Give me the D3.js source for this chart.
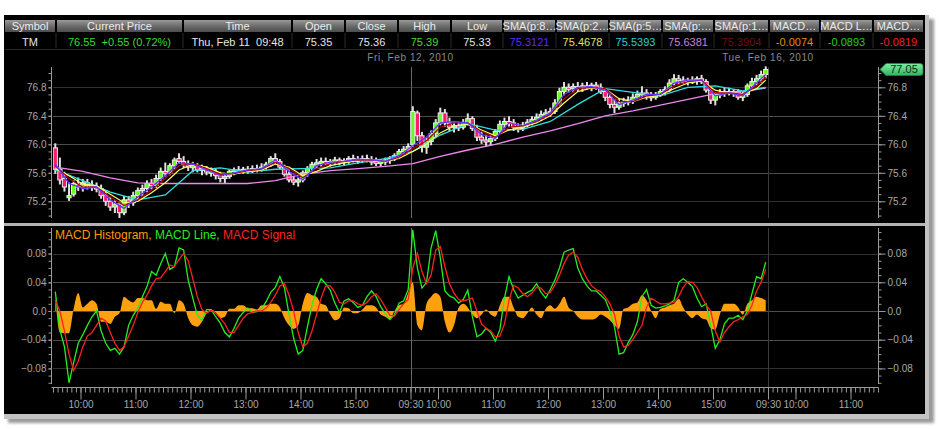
<!DOCTYPE html>
<html><head><meta charset="utf-8">
<script src="https://cdn.jsdelivr.net/npm/d3@7"></script>
<style>
body{margin:0;background:#fff;}
svg{display:block;font-family:"Liberation Sans",Arial,sans-serif;}
</style></head>
<body><svg id="c" width="944" height="429"></svg>
<script>
// ---------------- DATA ----------------
const headerLabels = ["Symbol","Current Price","Time","Open","Close","High","Low","SMA(p:8\u2026","SMA(p:2\u2026","SMA(p:5\u2026","SMA(p:\u2026","SMA(p:1\u2026","MACD\u2026","MACD L\u2026","MACD\u2026"];
const headerValues = ["TM","76.55  +0.55 (0.72%)","Thu, Feb 11  09:48","75.35","75.36","75.39","75.33","75.3121","75.4678","75.5393","75.6381","75.3904","-0.0074","-0.0893","-0.0819"];
const headerValueColors = ["#e6e6e6","#33dd33","#e6e6e6","#e6e6e6","#e6e6e6","#44dd22","#e6e6e6","#5a28ff","#e0e060","#22d0d0","#cc80dd","#6a1212","#e08a00","#22cc22","#ee2222"];

const dayLabels = ["Fri, Feb 12, 2010","Tue, Feb 16, 2010"];
const dayStartMinutes = [390, 780];

const timeTickMinutes = [30,90,150,210,270,330,390,420,480,540,600,660,720,780,810,870];
const timeTickLabels = ["10:00","11:00","12:00","13:00","14:00","15:00","09:30","10:00","11:00","12:00","13:00","14:00","15:00","09:30","10:00","11:00"];

const priceTicks = [75.2,75.6,76.0,76.4,76.8];
const macdTicks = [-0.08,-0.04,0.0,0.04,0.08];
const lastPrice = 77.05;

// 5-minute bars, two sessions (index i -> minute 5*i+2.5)
const barOpen = [
75.95,75.65,75.52,75.25,75.30,75.44,75.40,75.46,75.42,75.40,
75.38,75.28,75.20,75.12,75.16,75.04,75.22,75.18,75.28,75.35,
75.38,75.45,75.42,75.52,75.62,75.60,75.70,75.80,75.76,75.72,
75.68,75.70,75.64,75.66,75.61,75.62,75.56,75.52,75.55,75.62,
75.64,75.63,75.65,75.64,75.66,75.65,75.68,75.72,75.80,75.76,
75.68,75.58,75.50,75.47,75.50,75.60,75.66,75.72,75.74,75.76,
75.74,75.76,75.78,75.75,75.77,75.80,75.78,75.79,75.80,75.78,
75.76,75.74,75.76,75.78,75.80,75.84,75.90,75.93,
76.00,76.44,76.12,75.96,76.04,76.15,76.30,76.44,76.30,76.24,
76.26,76.24,76.30,76.36,76.22,76.10,76.06,76.04,76.08,76.18,
76.28,76.32,76.30,76.24,76.22,76.27,76.31,76.35,76.38,76.42,
76.44,76.46,76.58,76.74,76.80,76.78,76.81,76.80,76.82,76.80,
76.83,76.80,76.74,76.66,76.56,76.52,76.58,76.60,76.62,76.66,
76.70,76.72,76.68,76.66,76.70,76.74,76.77,76.86,76.92,76.90,
76.88,76.90,76.89,76.92,76.88,76.76,76.62,76.70,76.72,76.74,
76.72,76.74,76.66,76.70,76.82,76.88,76.92,76.98];
const barHigh = [
76.00,75.80,75.60,75.45,75.48,75.52,75.50,75.50,75.48,75.45,
75.42,75.32,75.25,75.20,75.18,75.26,75.26,75.32,75.38,75.42,
75.48,75.50,75.56,75.66,75.73,75.72,75.80,75.86,75.82,75.76,
75.74,75.72,75.70,75.68,75.66,75.64,75.60,75.58,75.64,75.66,
75.68,75.67,75.68,75.69,75.70,75.72,75.74,75.82,75.86,75.78,
75.70,75.62,75.54,75.52,75.62,75.68,75.74,75.78,75.80,75.80,
75.78,75.81,75.80,75.79,75.82,75.84,75.82,75.83,75.84,75.82,
75.80,75.78,75.80,75.82,75.86,75.92,75.96,76.00,
76.52,76.46,76.16,76.08,76.18,76.34,76.50,76.48,76.36,76.30,
76.30,76.34,76.42,76.38,76.26,76.16,76.12,76.12,76.20,76.32,
76.36,76.38,76.34,76.28,76.30,76.34,76.38,76.42,76.46,76.48,
76.50,76.62,76.78,76.86,76.84,76.84,76.86,76.85,76.86,76.85,
76.86,76.84,76.76,76.70,76.62,76.62,76.64,76.66,76.70,76.74,
76.80,76.76,76.72,76.72,76.76,76.80,76.90,76.97,76.96,76.94,
76.92,76.94,76.94,76.96,76.90,76.78,76.72,76.76,76.78,76.78,
76.76,76.76,76.72,76.84,76.92,76.96,77.02,77.08];
const barLow = [
75.60,75.45,75.35,75.22,75.28,75.36,75.35,75.38,75.36,75.34,
75.25,75.15,75.08,75.05,74.98,75.02,75.12,75.15,75.24,75.28,
75.34,75.38,75.40,75.50,75.56,75.58,75.66,75.74,75.68,75.64,
75.62,75.62,75.58,75.58,75.56,75.52,75.48,75.46,75.53,75.58,
75.60,75.60,75.60,75.61,75.62,75.63,75.66,75.70,75.74,75.66,
75.56,75.48,75.44,75.42,75.48,75.56,75.62,75.68,75.70,75.72,
75.70,75.72,75.72,75.71,75.74,75.76,75.74,75.75,75.76,75.72,
75.71,75.70,75.72,75.74,75.78,75.82,75.86,75.90,
75.98,76.06,75.90,75.88,76.00,76.12,76.28,76.26,76.20,76.18,
76.20,76.22,76.28,76.20,76.06,76.02,75.98,76.00,76.06,76.16,
76.24,76.26,76.20,76.18,76.20,76.25,76.28,76.32,76.34,76.38,
76.40,76.44,76.56,76.70,76.74,76.74,76.76,76.75,76.78,76.76,
76.78,76.72,76.62,76.52,76.45,76.50,76.54,76.56,76.58,76.64,
76.66,76.64,76.62,76.64,76.68,76.70,76.75,76.84,76.86,76.86,
76.84,76.86,76.85,76.86,76.74,76.58,76.56,76.66,76.68,76.70,
76.68,76.64,76.62,76.68,76.78,76.84,76.88,76.94];
const barClose = [
75.65,75.50,75.40,75.28,75.45,75.40,75.46,75.42,75.40,75.38,
75.28,75.20,75.12,75.16,75.04,75.22,75.18,75.28,75.35,75.38,
75.45,75.42,75.52,75.62,75.60,75.70,75.78,75.76,75.72,75.68,
75.70,75.64,75.66,75.61,75.62,75.56,75.52,75.55,75.62,75.64,
75.63,75.65,75.64,75.66,75.65,75.68,75.72,75.80,75.76,75.68,
75.58,75.50,75.47,75.50,75.60,75.66,75.72,75.74,75.76,75.74,
75.76,75.78,75.75,75.77,75.80,75.78,75.79,75.80,75.78,75.76,
75.74,75.76,75.78,75.80,75.84,75.90,75.93,75.97,
76.46,76.12,75.96,76.04,76.15,76.30,76.44,76.30,76.24,76.26,
76.24,76.30,76.36,76.22,76.10,76.06,76.04,76.08,76.18,76.28,
76.32,76.30,76.24,76.22,76.27,76.31,76.35,76.38,76.42,76.44,
76.46,76.58,76.74,76.80,76.78,76.81,76.80,76.82,76.80,76.83,
76.80,76.74,76.66,76.56,76.52,76.58,76.60,76.62,76.66,76.70,
76.72,76.68,76.66,76.70,76.74,76.77,76.86,76.92,76.90,76.88,
76.90,76.89,76.92,76.88,76.76,76.62,76.70,76.72,76.74,76.72,
76.74,76.66,76.70,76.82,76.88,76.92,76.98,77.05];

// moving-average lines (bar index samples)
const smaFastIdx = [0,3,6,9,12,15,18,21,24,27,30,33,36,39,42,45,48,51,54,57,60,63,66,69,72,75,78,81,84,87,90,93,96,99,102,105,108,111,114,117,120,123,126,129,132,135,138,141,144,147,150,153,155];
const sma8 = [
75.72,75.45,75.38,75.40,75.22,75.10,75.26,75.40,75.56,75.74,
75.72,75.64,75.56,75.60,75.64,75.66,75.78,75.62,75.50,75.70,
75.75,75.76,75.79,75.78,75.76,75.84,75.98,76.10,76.30,76.32,
76.30,76.14,76.08,76.30,76.26,76.34,76.44,76.70,76.80,76.81,
76.76,76.56,76.62,76.70,76.70,76.86,76.90,76.90,76.68,76.72,
76.68,76.86,76.98];
const sma1x = [
75.70,75.52,75.40,75.40,75.26,75.14,75.22,75.36,75.52,75.70,
75.73,75.66,75.58,75.59,75.63,75.65,75.75,75.66,75.53,75.66,
75.73,75.76,75.78,75.78,75.76,75.82,75.94,76.05,76.24,76.30,
76.30,76.18,76.10,76.24,76.26,76.32,76.42,76.64,76.78,76.80,
76.78,76.60,76.60,76.68,76.70,76.82,76.88,76.90,76.72,76.72,
76.70,76.82,76.94];
const sma2x = [
75.66,75.56,75.44,75.42,75.30,75.18,75.20,75.32,75.46,75.64,
75.72,75.68,75.60,75.58,75.62,75.64,75.72,75.68,75.56,75.62,
75.70,75.74,75.77,75.78,75.76,75.80,75.90,76.00,76.16,76.26,
76.28,76.20,76.12,76.20,76.24,76.30,76.40,76.58,76.74,76.79,
76.78,76.64,76.60,76.66,76.69,76.78,76.86,76.89,76.76,76.72,
76.71,76.78,76.90];
const smaSlowIdx = [0,6,12,18,24,30,36,42,48,54,60,66,72,78,84,90,96,102,108,114,120,126,132,138,144,150,155];
const sma5x = [75.64,75.49,75.33,75.22,75.29,75.63,75.67,75.61,75.65,75.66,75.67,75.74,75.80,75.90,76.13,76.29,76.20,76.21,76.32,76.56,76.78,76.73,76.68,76.80,76.82,76.75,76.80];
const smaLong = [75.68,75.62,75.53,75.46,75.45,75.45,75.45,75.45,75.49,75.58,75.63,75.66,75.69,75.73,75.83,75.92,76.00,76.10,76.19,76.29,76.40,76.47,76.55,76.63,76.71,76.74,76.79];

// MACD (per bar)
const macdLine = [
0.027,-0.026,-0.05,-0.10,-0.072,-0.045,-0.033,-0.02,-0.008,0.0,
-0.028,-0.045,-0.055,-0.052,-0.06,-0.05,-0.02,-0.006,0.004,0.02,
0.034,0.055,0.05,0.066,0.08,0.058,0.062,0.088,0.085,0.043,
0.018,-0.006,-0.013,0.002,0.002,-0.008,-0.017,-0.03,-0.036,-0.024,
-0.01,-0.002,0.004,-0.002,-0.001,0.003,0.013,0.026,0.033,0.048,
0.032,-0.005,-0.038,-0.06,-0.055,-0.022,0.008,0.03,0.045,0.038,
0.029,0.011,-0.002,0.014,0.017,0.012,0.005,0.008,0.02,0.028,
0.02,0.006,-0.004,-0.012,-0.005,0.011,0.014,0.03,0.113,0.06,
0.032,0.04,0.088,0.112,0.074,0.028,0.021,0.018,0.011,0.016,
0.029,-0.008,-0.036,-0.032,-0.024,-0.03,-0.042,-0.026,0.018,0.048,
0.03,0.018,0.022,0.026,0.029,0.038,0.026,0.018,0.03,0.043,
0.06,0.082,0.085,0.087,0.06,0.045,0.035,0.028,0.028,0.022,
0.016,0.0,-0.022,-0.06,-0.058,-0.044,-0.033,-0.015,0.02,0.03,
0.008,0.004,0.005,0.007,0.01,0.015,0.04,0.045,0.04,0.034,
0.018,0.006,0.01,-0.02,-0.052,-0.04,-0.018,-0.01,-0.01,-0.006,
-0.012,0.0,0.024,0.048,0.045,0.068];
const macdSignal = [
0.015,0.0,-0.028,-0.06,-0.083,-0.07,-0.05,-0.035,-0.03,-0.02,
-0.01,-0.014,-0.03,-0.045,-0.055,-0.05,-0.035,-0.02,-0.002,0.012,
0.022,0.035,0.045,0.046,0.055,0.064,0.062,0.072,0.08,0.07,
0.045,0.02,0.002,-0.003,0.001,-0.003,-0.01,-0.018,-0.03,-0.03,
-0.02,-0.01,-0.004,-0.002,0.0,0.0,0.004,0.012,0.022,0.035,
0.038,0.022,0.0,-0.03,-0.05,-0.045,-0.028,-0.005,0.018,0.035,
0.035,0.026,0.012,0.01,0.014,0.014,0.01,0.008,0.012,0.02,
0.024,0.016,0.005,-0.006,-0.007,0.002,0.01,0.016,0.06,0.08,
0.055,0.038,0.05,0.085,0.09,0.062,0.038,0.025,0.016,0.014,
0.016,0.018,0.0,-0.018,-0.024,-0.028,-0.036,-0.035,-0.018,0.015,
0.036,0.032,0.024,0.02,0.025,0.033,0.032,0.024,0.026,0.036,
0.05,0.066,0.078,0.082,0.075,0.058,0.045,0.035,0.03,0.027,
0.02,0.01,-0.005,-0.035,-0.05,-0.048,-0.04,-0.03,-0.02,0.005,
0.018,0.014,0.01,0.01,0.011,0.012,0.02,0.033,0.041,0.04,
0.033,0.02,0.008,0.0,-0.028,-0.043,-0.03,-0.022,-0.015,-0.012,
-0.008,-0.005,0.008,0.028,0.04,0.058];
const macdHist = [
0.02,-0.03,-0.031,-0.031,0.003,0.025,0.005,0.01,0.015,0.01,
-0.015,-0.015,-0.018,-0.008,-0.003,0.02,0.015,0.012,0.018,0.018,
0.015,0.015,0.003,0.013,0.01,0.01,-0.003,0.015,0.01,-0.01,
-0.02,-0.022,-0.015,-0.003,0.002,-0.002,-0.01,-0.008,0.003,0.003,
0.008,0.008,0.004,0.004,0.002,0.008,0.008,0.01,0.01,0.005,
-0.01,-0.02,-0.025,-0.02,0.01,0.025,0.022,0.02,0.01,0.008,
-0.005,-0.013,-0.01,0.005,0.004,-0.003,-0.003,0.002,0.008,0.008,
0.005,-0.005,-0.008,-0.012,0.0,0.008,0.01,0.025,0.04,-0.02,
-0.027,0.01,0.02,0.025,0.02,-0.015,-0.03,-0.02,0.005,0.01,
0.005,-0.005,-0.01,-0.005,0.002,-0.005,-0.008,0.008,0.02,0.02,
0.005,-0.008,-0.01,-0.003,0.005,-0.005,-0.01,0.003,0.008,0.003,
0.01,0.02,0.005,0.0,-0.008,-0.012,-0.012,-0.012,-0.01,-0.005,
-0.008,-0.013,-0.02,-0.025,0.003,0.005,0.01,0.012,0.022,0.015,
0.0,-0.01,0.003,0.005,0.008,0.01,0.017,0.005,-0.005,-0.01,
-0.005,-0.01,-0.012,-0.024,-0.026,-0.005,0.01,0.01,0.01,0.005,
-0.005,0.01,0.015,0.02,0.018,0.015];

// ---------------- DRAW ----------------
const svg = d3.select("#c");
const FONT = "'Liberation Sans',Arial,sans-serif";
const barMin = i => 5*i + 2.5;

const x = d3.scaleLinear().domain([0, 900]).range([53, 878]);
const yP = d3.scaleLinear().domain([75.0, 77.0]).range([215.55, 73.05]);
const yM = d3.scaleLinear().domain([-0.08, 0.08]).range([368.4, 253.6]);

const defs = svg.append("defs");
const hg = defs.append("linearGradient").attr("id","hdr").attr("x1",0).attr("y1",0).attr("x2",0).attr("y2",1);
hg.append("stop").attr("offset","0%").attr("stop-color","#9a9a9a");
hg.append("stop").attr("offset","50%").attr("stop-color","#6c6c6c");
hg.append("stop").attr("offset","100%").attr("stop-color","#4c4c4c");
const tg = defs.append("linearGradient").attr("id","tag").attr("x1",0).attr("y1",0).attr("x2",0).attr("y2",1);
tg.append("stop").attr("offset","0%").attr("stop-color","#7ef0a0");
tg.append("stop").attr("offset","100%").attr("stop-color","#2fb462");
defs.append("filter").attr("id","blur").append("feGaussianBlur").attr("stdDeviation",1.6);
defs.append("clipPath").attr("id","clipTop").append("rect").attr("x",53).attr("y",50).attr("width",825).attr("height",170);
defs.append("clipPath").attr("id","clipBot").append("rect").attr("x",53).attr("y",228).attr("width",825).attr("height",159);

// frame
svg.append("rect").attr("x",8).attr("y",19).attr("width",926).attr("height",404).attr("fill","#9a9a9a").attr("filter","url(#blur)");
svg.append("rect").attr("x",4).attr("y",15).attr("width",925).attr("height",404).attr("fill","#c2c2c2");
svg.append("rect").attr("x",4).attr("y",15).attr("width",921).attr("height",399).attr("fill","#000");
svg.append("rect").attr("x",4).attr("y",223).attr("width",921).attr("height",3).attr("fill","#b4b4b4");

// header table
const colEdges = [5,57,184,293,346,399,452,504,557,610,663,715,770,821,874,925];
const hdr = svg.append("g");
headerLabels.forEach((lab,k)=>{
  const x0 = colEdges[k], x1 = colEdges[k+1];
  hdr.append("rect").attr("x",x0).attr("y",20).attr("width",x1-x0-2).attr("height",12).attr("fill","url(#hdr)");
  hdr.append("text").attr("x",(x0+x1-2)/2).attr("y",30).attr("text-anchor","middle")
    .attr("font-size",11).attr("fill","#ececec").attr("font-family",FONT).text(lab);
  if(k>0) hdr.append("line").attr("x1",x0-1).attr("x2",x0-1).attr("y1",33).attr("y2",48).attr("stroke","#2a2a2a");
  hdr.append("text").attr("x",(x0+x1-2)/2).attr("y",46).attr("text-anchor","middle").style("white-space","pre")
    .attr("font-size",11).attr("fill",headerValueColors[k]).attr("font-family",FONT).text(headerValues[k]);
});
hdr.append("line").attr("x1",5).attr("x2",925).attr("y1",49.5).attr("y2",49.5).attr("stroke","#2a2a2a");

// grid lines
const grid = svg.append("g");
priceTicks.forEach((v,k)=>{
  grid.append("line").attr("x1",53).attr("x2",878).attr("y1",Math.round(yP(v))+0.5).attr("y2",Math.round(yP(v))+0.5)
    .attr("stroke",(k===0||k===priceTicks.length-1)?"#303030":"#4c4c4c");
});
macdTicks.forEach((v,k)=>{
  grid.append("line").attr("x1",53).attr("x2",878).attr("y1",Math.round(yM(v))+0.5).attr("y2",Math.round(yM(v))+0.5)
    .attr("stroke",(k===0||k===macdTicks.length-1)?"#303030":"#4c4c4c");
});
// day separators
dayStartMinutes.forEach((m,k)=>{
  const xx = Math.round(x(m))+0.5;
  const col = k===0 ? "#6a6a6a" : "#3a3a3a";
  grid.append("line").attr("x1",xx).attr("x2",xx).attr("y1",67).attr("y2",218).attr("stroke",col);
  grid.append("line").attr("x1",xx).attr("x2",xx).attr("y1",228).attr("y2",387).attr("stroke",col);
  svg.append("text").attr("x",x(m)).attr("y",61).attr("text-anchor","middle").attr("font-size",10)
    .attr("letter-spacing",0.6).attr("fill","#8a8a8a").attr("font-family",FONT).text(dayLabels[k]);
});

// candles
const bars = barClose.map((c,i)=>({m:barMin(i),o:barOpen[i],h:barHigh[i],l:barLow[i],c:c}));
const gTop = svg.append("g").attr("clip-path","url(#clipTop)");
gTop.selectAll("line.wick").data(bars).join("line").attr("class","wick")
  .attr("x1",d=>x(d.m)).attr("x2",d=>x(d.m)).attr("y1",d=>yP(d.h)-1).attr("y2",d=>yP(d.l)+1)
  .attr("stroke","#e2e2e2").attr("stroke-width",2);
const cw = 4.2;
gTop.selectAll("rect.body").data(bars).join("rect").attr("class","body")
  .attr("x",d=>x(d.m)-cw/2).attr("y",d=>yP(Math.max(d.o,d.c)))
  .attr("width",cw).attr("height",d=>Math.max(2,Math.abs(yP(d.o)-yP(d.c))))
  .attr("fill",d=>d.c>=d.o?"#66ff22":"#ff1a6e").attr("stroke","#eeeeee").attr("stroke-width",1);

// moving averages
function smaLine(idx, vals, color, w){
  const pts = idx.map((i,k)=>[barMin(i), vals[k]]);
  gTop.append("path").datum(pts).attr("fill","none").attr("stroke",color).attr("stroke-width",w)
    .attr("d", d3.line().x(d=>x(d[0])).y(d=>yP(d[1])));
}
smaLine(smaSlowIdx, smaLong, "#ee88ee", 1.3);
smaLine(smaSlowIdx, sma5x, "#33e0e0", 1.3);
smaLine(smaFastIdx, sma2x, "#ffff66", 1.2);
smaLine(smaFastIdx, sma1x, "#b00000", 1.3);
smaLine(smaFastIdx, sma8, "#6633ff", 1.3);

// MACD panel
const gBot = svg.append("g").attr("clip-path","url(#clipBot)");
const histPts = macdHist.map((v,i)=>[barMin(i), v]);
gBot.append("path").datum(histPts).attr("fill","#ffa010")
  .attr("d", d3.area().x(d=>x(d[0])).y0(yM(0)).y1(d=>yM(d[1])).curve(d3.curveMonotoneX));
const linePts = arr => arr.map((v,i)=>[barMin(i), v]);
gBot.append("path").datum(linePts(macdLine)).attr("fill","none").attr("stroke","#22ee22").attr("stroke-width",1.3)
  .attr("d", d3.line().x(d=>x(d[0])).y(d=>yM(d[1])));
gBot.append("path").datum(linePts(macdSignal)).attr("fill","none").attr("stroke","#ff2020").attr("stroke-width",1.3)
  .attr("d", d3.line().x(d=>x(d[0])).y(d=>yM(d[1])));

// legend
const leg = svg.append("text").attr("x",55).attr("y",239).attr("font-size",12).attr("font-family",FONT).style("white-space","pre");
leg.append("tspan").attr("fill","#ff9900").text("MACD Histogram, ");
leg.append("tspan").attr("fill","#22ee22").text("MACD Line, ");
leg.append("tspan").attr("fill","#ff2020").text("MACD Signal");

// axes
function styleAxis(g){
  g.attr("font-family",FONT).attr("font-size",10);
  g.select(".domain").remove();
  g.selectAll(".tick line").attr("stroke","#9a9a9a");
  g.selectAll(".tick text").attr("fill","#a8a8a8");
}
function vline(xx,y1,y2){ svg.append("line").attr("x1",xx).attr("x2",xx).attr("y1",y1).attr("y2",y2).attr("stroke","#9a9a9a"); }
const minorP = d3.range(0,21).map(k=>75.0+k*0.1);
const minorM = d3.range(0,22).map(k=>-0.10+k*0.01);
const fmtM = d=>Math.abs(d)<1e-9?"0.0":d3.format(".2f")(d).replace("-","\u2212");

// right axes
vline(878.5,67,218); vline(878.5,228,384);
svg.append("g").attr("transform","translate(878.5,0)").call(d3.axisRight(yP).tickValues(minorP).tickSize(3).tickFormat("")).call(styleAxis);
svg.append("g").attr("transform","translate(878.5,0)").call(d3.axisRight(yP).tickValues(priceTicks).tickSize(7).tickPadding(2).tickFormat(d3.format(".1f"))).call(styleAxis);
svg.append("g").attr("transform","translate(878.5,0)").call(d3.axisRight(yM).tickValues(minorM).tickSize(3).tickFormat("")).call(styleAxis);
svg.append("g").attr("transform","translate(878.5,0)").call(d3.axisRight(yM).tickValues(macdTicks).tickSize(7).tickPadding(2).tickFormat(fmtM)).call(styleAxis);
// left axes
vline(51.5,67,218); vline(51.5,228,384);
svg.append("g").attr("transform","translate(51.5,0)").call(d3.axisLeft(yP).tickValues(minorP).tickSize(3).tickFormat("")).call(styleAxis);
svg.append("g").attr("transform","translate(51.5,0)").call(d3.axisLeft(yP).tickValues(priceTicks).tickSize(3).tickPadding(2).tickFormat(d3.format(".1f"))).call(styleAxis);
svg.append("g").attr("transform","translate(51.5,0)").call(d3.axisLeft(yM).tickValues(minorM).tickSize(3).tickFormat("")).call(styleAxis);
svg.append("g").attr("transform","translate(51.5,0)").call(d3.axisLeft(yM).tickValues(macdTicks).tickSize(3).tickPadding(2).tickFormat(fmtM)).call(styleAxis);

// bottom time axis
svg.append("line").attr("x1",51.5).attr("x2",878.5).attr("y1",387.5).attr("y2",387.5).attr("stroke","#9a9a9a");
const minorT = d3.range(0,181).map(k=>k*5);
svg.append("g").attr("transform","translate(0,387.5)").call(d3.axisBottom(x).tickValues(minorT).tickSize(5).tickFormat("")).call(styleAxis);
svg.append("g").attr("transform","translate(0,387.5)").call(d3.axisBottom(x).tickValues(timeTickMinutes).tickSize(12).tickPadding(1).tickFormat((d,k)=>timeTickLabels[k])).call(styleAxis);

// last price tag
const ty = yP(lastPrice);
svg.append("path").attr("d",`M880,${ty} L886,${ty-6} L920,${ty-6} Q923,${ty-6} 923,${ty-3} L923,${ty+3} Q923,${ty+6} 920,${ty+6} L886,${ty+6} Z`)
  .attr("fill","url(#tag)").attr("stroke","#1f8a46").attr("stroke-width",0.8);
svg.append("text").attr("x",904).attr("y",ty+4).attr("text-anchor","middle").attr("font-size",11)
  .attr("fill","#0c2a14").attr("font-family",FONT).text(d3.format(".2f")(lastPrice));
</script>
</body></html>
